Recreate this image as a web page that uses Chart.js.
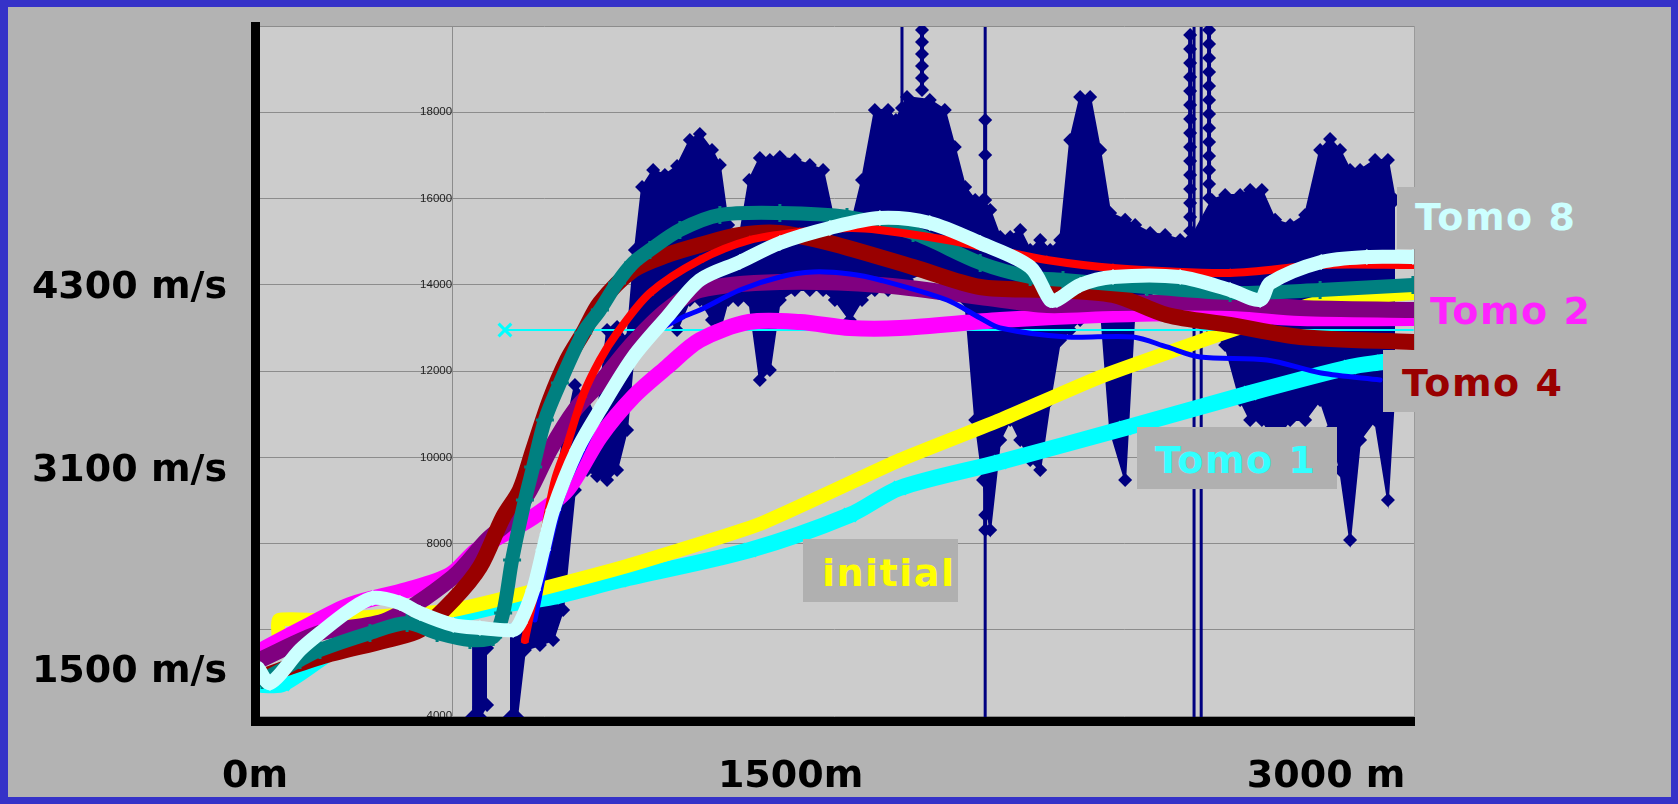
<!DOCTYPE html>
<html>
<head>
<meta charset="utf-8">
<script src="https://cdn.jsdelivr.net/npm/chart.js@4.4.1/dist/chart.umd.min.js"></script>
<style>
  html, body { margin: 0; padding: 0; }
  body { width: 1678px; height: 804px; background: #3532c8; position: relative; overflow: hidden; }
  #panel { position: absolute; left: 8px; top: 7px; right: 7px; bottom: 7px; background: #b3b3b3; }
  #c { position: absolute; left: 0; top: 0; }
  .tag { position: absolute; font: bold 38px/38px "DejaVu Sans", sans-serif; letter-spacing: 1.5px; white-space: nowrap; box-sizing: border-box; }
</style>
</head>
<body>
<div id="panel"></div>
<canvas id="c" width="1678" height="804"></canvas>
<div class="tag" style="left:1397px;top:187px;width:220px;height:62px;padding:11px 0 0 18px;background:#b3b3b3;color:#ccffff">Tomo 8</div>
<div class="tag" style="left:1430px;top:292px;color:#ff22ff">Tomo 2</div>
<div class="tag" style="left:1383px;top:350px;width:200px;height:62px;padding:14px 0 0 19px;background:#b3b3b3;color:#990000">Tomo 4</div>
<div class="tag" style="left:1137px;top:427px;width:200px;height:62px;padding:14px 0 0 18px;background:#b0b0b0;color:#33ffff">Tomo 1</div>
<div class="tag" style="left:803px;top:539px;width:155px;height:63px;padding:15px 0 0 19px;background:#b0b0b0;color:#ffff00">initial</div>
<script>
// axes
const xMax = 3246, yMin = 3890, yMax = 20000;
const innerAxisAt = 552;
const yInnerTicks = [4000, 6000, 8000, 10000, 12000, 14000, 16000, 18000, 20000];
const yOuterTicks = [5026, 9685, 13916];
const yOuterText = ["1500 m/s", "3100 m/s", "4300 m/s"];
const xTicks = [0, 1500, 3000];
const xText = ["0m", "1500m", "3000 m"];

// velocity curves (x in m, value in plot units)
const tomo8X = [8, 42, 126, 182, 266, 330, 406, 462, 555, 630, 723, 742, 779, 807, 835, 902, 966, 1059, 1154, 1246, 1358, 1470, 1610, 1750, 1890, 2031, 2171, 2227, 2246, 2311, 2403, 2591, 2731, 2815, 2843, 2986, 3114, 3243];
const tomo8V = [5119, 4771, 5536, 5930, 6463, 6741, 6625, 6393, 6115, 6046, 6000, 6162, 6927, 7854, 8781, 10172, 11099, 12328, 13255, 14113, 14530, 14970, 15318, 15550, 15434, 14970, 14414, 13649, 13649, 13997, 14182, 14182, 13881, 13649, 14043, 14530, 14646, 14646];

const redX = [756, 784, 812, 840, 874, 919, 966, 1014, 1106, 1246, 1386, 1526, 1666, 1750, 1938, 2078, 2218, 2403, 2731, 2986, 3243];
const redV = [5768, 6927, 8318, 9477, 10288, 11447, 12258, 12884, 13811, 14576, 15040, 15225, 15318, 15272, 15040, 14808, 14576, 14391, 14275, 14460, 14460];

const tealX = [20, 126, 182, 322, 426, 510, 602, 667, 695, 720, 756, 779, 812, 854, 919, 966, 1014, 1059, 1106, 1190, 1302, 1470, 1658, 1843, 2031, 2171, 2263, 2498, 2731, 2983, 3243];
const tealV = [4841, 5304, 5536, 5930, 6162, 5930, 5768, 5837, 6393, 7622, 9013, 9778, 10867, 11725, 12884, 13417, 14043, 14507, 14808, 15272, 15619, 15666, 15573, 15202, 14507, 14182, 14113, 13950, 13811, 13881, 13997];

const blueX = [784, 826, 868, 919, 1014, 1106, 1199, 1246, 1358, 1470, 1563, 1666, 1750, 1938, 2031, 2087, 2274, 2459, 2554, 2647, 2834, 2986, 3151];
const blueV = [6231, 7970, 9245, 10172, 11725, 12791, 13255, 13417, 13881, 14182, 14298, 14252, 14113, 13649, 13232, 13000, 12791, 12791, 12560, 12328, 12258, 11957, 11795];

const tomo4X = [8, 182, 370, 462, 555, 630, 695, 742, 779, 826, 874, 919, 966, 1059, 1154, 1246, 1358, 1470, 1610, 1843, 2031, 2218, 2403, 2554, 2731, 2927, 3243];
const tomo4V = [4887, 5374, 5768, 6000, 6695, 7460, 8619, 9245, 10172, 11331, 12258, 12884, 13579, 14344, 14692, 14924, 15156, 15202, 14970, 14414, 13950, 13881, 13765, 13301, 13070, 12791, 12675];

const purpleX = [14, 182, 370, 555, 650, 714, 770, 826, 896, 966, 1059, 1154, 1246, 1470, 1750, 2031, 2218, 2403, 2731, 2927, 3243];
const purpleV = [5304, 5930, 6231, 7228, 8086, 8549, 9245, 10172, 11099, 11725, 12652, 13417, 13881, 14066, 13997, 13718, 13533, 13579, 13579, 13464, 13417];

const tomo2X = [20, 126, 266, 426, 546, 622, 779, 874, 966, 1059, 1154, 1246, 1384, 1526, 1666, 1806, 2087, 2367, 2647, 2927, 3243];
const tomo2V = [5536, 6000, 6579, 6927, 7274, 7854, 8619, 9245, 10473, 11401, 12096, 12722, 13139, 13139, 13000, 13000, 13185, 13301, 13348, 13232, 13232];

const initialX = [67, 67, 182, 555, 1022, 1414, 1806, 2087, 2367, 2739, 2986, 3243];
const initialV = [5768, 6231, 6231, 6463, 7437, 8457, 9940, 10867, 11864, 12954, 13603, 13811];

const tomo1X = [20, 78, 266, 406, 546, 695, 835, 1022, 1386, 1666, 1806, 2087, 2437, 2787, 3067, 3159];
const tomo1V = [4725, 4748, 5768, 6115, 6301, 6579, 6765, 7159, 7854, 8665, 9291, 9894, 10682, 11493, 12096, 12212];

const refX = [700, 3243];
const refV = [12954, 12954];

// well log: upper and lower edge at each station
const logX = [608, 630, 650, 681, 714, 734, 756, 798, 835, 863, 896, 930, 958, 986, 1014, 1042, 1064, 1084, 1115, 1148, 1182, 1218, 1246, 1280, 1302, 1325, 1353, 1384, 1414, 1442, 1470, 1512, 1554, 1591, 1624, 1666, 1700, 1736, 1773, 1795, 1826, 1890, 1932, 1960, 1989, 2017, 2039, 2059, 2087, 2115, 2143, 2171, 2199, 2227, 2255, 2283, 2311, 2339, 2367, 2395, 2437, 2465, 2507, 2549, 2591, 2619, 2680, 2717, 2759, 2787, 2820, 2857, 2899, 2941, 2983, 3011, 3039, 3067, 3095, 3137, 3173, 3193];
const logHi = [5884, 5768, 5582, null, 6000, 6115, 6695, 6579, 9013, 10404, 11679, 11331, 10867, 12954, 13023, 12722, 14808, 16268, 16662, 16547, 16755, 17358, 17497, 17126, 16778, 15388, 14901, 16431, 16941, 16894, 16964, 16894, 16778, 16662, 15388, 15272, 16431, 18053, 18053, 17821, 18355, 18285, 18053, 17196, 16268, 15967, 15967, 15735, 15109, 15109, 15272, 14808, 15040, 14808, 15040, 17358, 18355, 18355, 17126, 15666, 15507, 15388, 15202, 15156, 15040, 15040, 15967, 16083, 16083, 16199, 16199, 15507, 15388, 15619, 17126, 17381, 17126, 16662, 16662, 16894, 16894, 15967];
const logLo = [3983, 3983, 4261, null, 3983, 3983, 5536, 5652, 5768, 6463, 9245, 9709, 9569, 9477, 9709, 10636, 12722, 12954, 13185, 13417, 12954, 13649, 13649, 13185, 12954, 13649, 13649, 13649, 11795, 12026, 13649, 13881, 13881, 13881, 13649, 13185, 13649, 13881, 13881, 14113, 14113, 14344, 14344, 14228, 13649, 10867, 9477, 8318, 10404, 10867, 10404, 9940, 9709, 11331, 12722, 12954, 13185, 13649, 13649, 10636, 9477, 13649, 13881, 13881, 13881, 13881, 12954, 12606, 11331, 10867, 10867, 10404, 10867, 10867, 11331, 10636, 9709, 8086, 10404, 10867, 9013, 11795];

// thin full-height log spikes
const spikeX = [1812, 2045, 2630, 2650];
const spikeHi = [19977, 19977, 19977, 19977];
const spikeLo = [14113, 3983, 3983, 3983];

// narrow diamond chains of the log
const chainAt = [1868, 2619, 2672, 2045, 1812];
const chainVals = [
  [19908, 19630, 19352, 19074, 18795, 18517],
  [19792, 19467, 19143, 18818, 18494, 18169, 17845, 17520, 17196, 16871, 16547, 16222, 15897, 15573, 15249, 14924, 14599, 14275, 13950],
  [19908, 19583, 19259, 18934, 18610, 18285, 17961, 17636, 17312, 16987, 16663, 16338, 16013],
  [17821, 17010, 15967, 15202, 8665, 8318],
  [18100]
];

const navy = "#000080";

function pts(xs, ys) {
  return xs.map((x, i) => ({ x: x, y: ys[i] }));
}

function band(label, xs, ys, color, width, order, extra) {
  return Object.assign({
    label: label,
    data: pts(xs, ys),
    borderColor: color,
    backgroundColor: color,
    borderWidth: width,
    pointRadius: 0,
    tension: 0.3,
    fill: false,
    order: order,
    borderCapStyle: "round",
    borderJoinStyle: "round"
  }, extra || {});
}

const spikePts = [];
spikeX.forEach((x, i) => {
  spikePts.push({ x: x, y: spikeHi[i] }, { x: x, y: spikeLo[i] }, { x: x, y: null });
});

const chainPts = [];
chainAt.forEach((x, k) => {
  chainVals[k].forEach((v) => chainPts.push({ x: x, y: v }));
  chainPts.push({ x: x, y: null });
});

const plotBg = {
  id: "plotBg",
  beforeDraw(chart) {
    const { ctx, chartArea: a } = chart;
    ctx.save();
    ctx.fillStyle = "#cccccc";
    ctx.fillRect(a.left, a.top, a.right - a.left, a.bottom - a.top);
    ctx.strokeStyle = "#9a9a9a";
    ctx.lineWidth = 1;
    ctx.beginPath();
    ctx.moveTo(a.right + 0.5, a.top);
    ctx.lineTo(a.right + 0.5, a.bottom);
    ctx.stroke();
    ctx.restore();
  }
};

const bigFont = { family: "DejaVu Sans", weight: "bold", size: 38 };

new Chart(document.getElementById("c"), {
  type: "line",
  data: {
    datasets: [
      band("Tomo 8", tomo8X, tomo8V, "#ccffff", 14, 1, { pointStyle: "rectRot", pointRadius: 8, pointBorderWidth: 0 }),
      band("red", redX, redV, "#ff0000", 8, 2, { pointStyle: "triangle", pointRadius: 5, pointBorderWidth: 0 }),
      band("teal", tealX, tealV, "#008080", 14, 3, { pointStyle: "cross", pointRadius: 9, pointBorderWidth: 3 }),
      band("blue", blueX, blueV, "#0000ff", 5, 4),
      band("Tomo 4", tomo4X, tomo4V, "#990000", 16, 5),
      band("purple", purpleX, purpleV, "#800080", 16, 6),
      band("Tomo 2", tomo2X, tomo2V, "#ff00ff", 16, 7),
      band("ref", refX, refV, "#00ffff", 2, 8, {
        tension: 0,
        pointStyle: "crossRot",
        pointBorderWidth: 3,
        pointRadius: (c) => (c.dataIndex === 0 ? 9 : 0)
      }),
      band("initial", initialX, initialV, "#ffff00", 14, 9, { tension: 0.15 }),
      band("Tomo 1", tomo1X, tomo1V, "#00ffff", 16, 10, { pointStyle: "crossRot", pointRadius: 9, pointBorderWidth: 3 }),
      { label: "spikes", data: spikePts, borderColor: navy, borderWidth: 3, pointRadius: 0, tension: 0, order: 11 },
      { label: "chains", data: chainPts, borderColor: navy, backgroundColor: navy, borderWidth: 4,
        pointStyle: "rectRot", pointRadius: 7, pointBorderWidth: 0, tension: 0, order: 12 },
      { label: "log", data: pts(logX, logHi), borderColor: navy, backgroundColor: navy, borderWidth: 2,
        pointStyle: "rectRot", pointRadius: 7, pointBorderWidth: 0, tension: 0, fill: "+1", order: 13 },
      { label: "logLow", data: pts(logX, logLo), borderColor: navy, backgroundColor: navy, borderWidth: 2,
        pointStyle: "rectRot", pointRadius: 7, pointBorderWidth: 0, tension: 0, fill: false, order: 14 }
    ]
  },
  options: {
    responsive: false,
    devicePixelRatio: 1,
    animation: false,
    layout: { padding: { left: 0, top: 26, right: 264, bottom: 0 } },
    datasets: { line: { clip: 0, spanGaps: false } },
    plugins: { legend: { display: false }, tooltip: { enabled: false } },
    scales: {
      x: {
        type: "linear",
        min: 0,
        max: xMax,
        position: "bottom",
        afterBuildTicks: (s) => { s.ticks = xTicks.map((v) => ({ value: v })); },
        afterFit: (s) => { s.height = 83; },
        ticks: {
          autoSkip: false, maxRotation: 0, minRotation: 0, padding: 33,
          color: "#000", font: bigFont,
          callback: (v, i) => xText[i]
        },
        grid: { display: false, drawTicks: false },
        border: { color: "#000", width: 9, z: 1 }
      },
      y: {
        type: "linear",
        min: yMin,
        max: yMax,
        position: { x: innerAxisAt },
        afterBuildTicks: (s) => { s.ticks = yInnerTicks.map((v) => ({ value: v })); },
        ticks: {
          autoSkip: false, padding: 4, color: "#222",
          font: { family: "Liberation Sans", size: 11.5 },
          callback: (v) => (v === 20000 ? "" : String(v))
        },
        grid: { color: "#8c8c8c", lineWidth: 1, tickLength: 6 },
        border: { color: "#8c8c8c", width: 1 }
      },
      yOuter: {
        type: "linear",
        min: yMin,
        max: yMax,
        position: "left",
        afterBuildTicks: (s) => { s.ticks = yOuterTicks.map((v) => ({ value: v })); },
        afterFit: (s) => { s.width = 255; s.paddingTop = 0; s.paddingBottom = 0; },
        ticks: {
          autoSkip: false, padding: 28, color: "#000", font: bigFont,
          callback: (v, i) => yOuterText[i]
        },
        grid: { display: false, drawTicks: false },
        border: { color: "#000", width: 9, z: 1 }
      }
    }
  },
  plugins: [plotBg]
});
</script>
</body>
</html>
